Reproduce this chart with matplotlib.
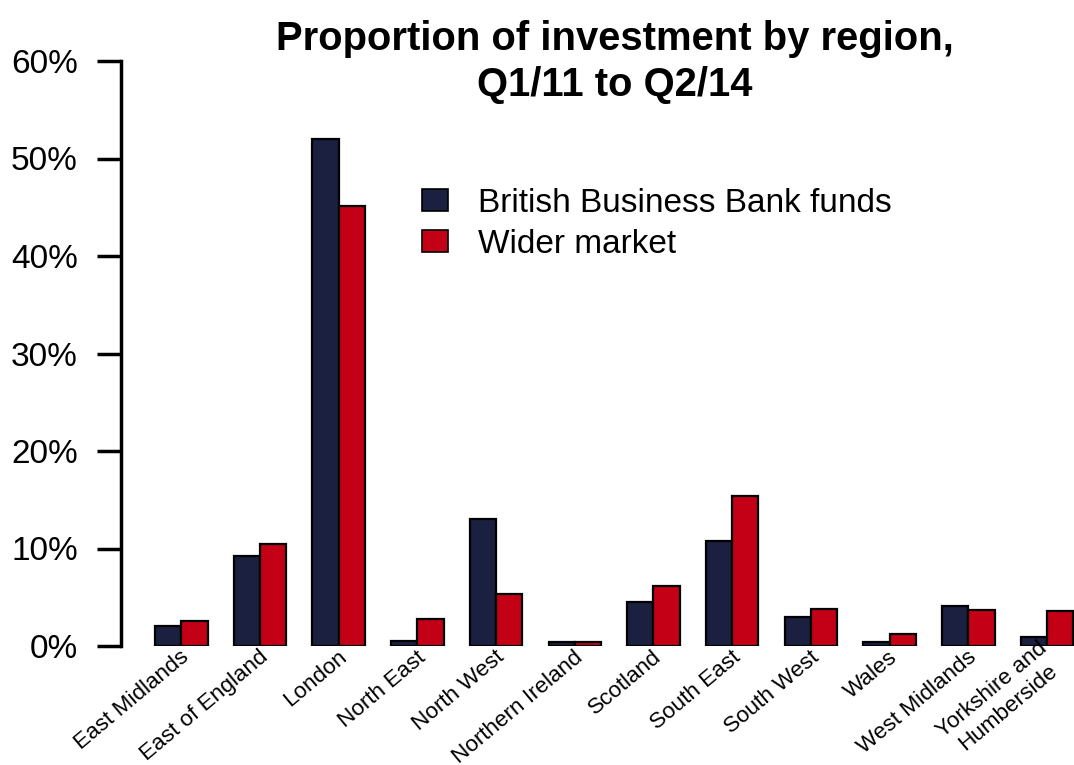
import matplotlib
matplotlib.use("Agg")
import matplotlib.pyplot as plt
from matplotlib.patches import Patch
import numpy as np

plt.rcParams['font.family'] = ['Liberation Sans', 'DejaVu Sans']

regions = ["East Midlands", "East of England", "London", "North East", "North West",
           "Northern Ireland", "Scotland", "South East", "South West", "Wales",
           "West Midlands", "Yorkshire and\nHumberside"]
bbb_funds = [2.05, 9.2, 52.0, 0.55, 13.0, 0.38, 4.5, 10.8, 2.95, 0.42, 4.07, 0.9]
wider_market = [2.56, 10.5, 45.1, 2.77, 5.37, 0.44, 6.15, 15.35, 3.79, 1.23, 3.69, 3.59]
yticks = [0, 10, 20, 30, 40, 50, 60]
ytick_labels = ["0%", "10%", "20%", "30%", "40%", "50%", "60%"]
series_names = ["British Business Bank funds", "Wider market"]

navy = "#1b1f40"
red = "#c40016"

W, H = 1074, 765
fig = plt.figure(figsize=(W / 100, H / 100), dpi=100)
ax = fig.add_axes([121 / W, (H - 646) / H, (1074 - 121) / W, (646 - 61) / H])

x = np.arange(len(regions))
w = 0.334
ax.bar(x - w / 2, bbb_funds, w, color=navy, edgecolor="black", linewidth=1.6)
ax.bar(x + w / 2, wider_market, w, color=red, edgecolor="black", linewidth=1.6)

ax.set_ylim(0, 60)
ax.set_xlim(-0.766, 11.343)
for s in ["top", "right", "bottom"]:
    ax.spines[s].set_visible(False)
ax.spines["left"].set_linewidth(2.5)
ax.set_yticks(yticks)
ax.set_yticklabels(ytick_labels, fontsize=24)
ax.tick_params(axis="y", length=17, width=2.5, pad=14)
ax.set_xticks([])

for i, lab in enumerate(regions):
    ax.text(i + 0.07, -0.9, lab, rotation=40, rotation_mode="anchor",
            ha="right", va="center", fontsize=16.2, multialignment="center",
            transform=ax.transData, clip_on=False)

fig.text(615 / W, 1 - 62 / H, "Proportion of investment by region,\nQ1/11 to Q2/14",
         ha="center", va="center", fontsize=28.8, fontweight="bold", linespacing=1.28)

handles = [Patch(facecolor=navy, edgecolor="black", linewidth=1.2),
           Patch(facecolor=red, edgecolor="black", linewidth=1.2)]
leg = fig.legend(handles, series_names, loc="upper left",
                 bbox_to_anchor=(392 / W, 1 - 158 / H), frameon=False,
                 fontsize=24, handlelength=0.78, handleheight=0.63,
                 handletextpad=0.9, labelspacing=0.3)

fig.savefig("out.png", dpi=100)
